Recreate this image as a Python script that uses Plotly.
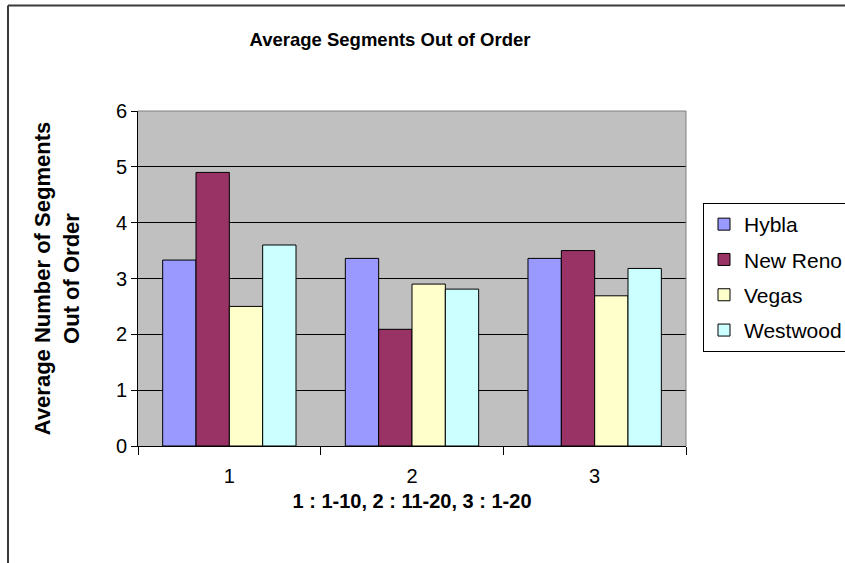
import plotly.graph_objects as go

categories = ["1", "2", "3"]
series_names = ["Hybla", "New Reno", "Vegas", "Westwood"]
hybla = [3.33, 3.36, 3.36]
new_reno = [4.90, 2.09, 3.50]
vegas = [2.50, 2.90, 2.69]
westwood = [3.60, 2.81, 3.18]
colors = ["#9999FF", "#993366", "#FFFFCC", "#CCFFFF"]

title_text = "Average Segments Out of Order"
x_title = "1 : 1-10, 2 : 11-20, 3 : 1-20"
y_title = "Average Number of Segments<br>Out of Order"
y_ticks = [0, 1, 2, 3, 4, 5, 6]

FONT = "Liberation Sans, Arial, sans-serif"

fig = go.Figure()
for name, vals, col in zip(series_names, [hybla, new_reno, vegas, westwood], colors):
    fig.add_trace(go.Bar(
        x=categories, y=vals, name=name, legendgroup=name,
        marker=dict(color=col, line=dict(color="black", width=1)),
    ))

W, H = 845, 563
L, R, T, B = 138, 159, 111, 117
pw = W - L - R
ph = H - T - B

def px(x):
    return (x - L) / pw

def py(y):
    return (H - B - y) / ph

fig.update_layout(
    width=W, height=H,
    margin=dict(l=L, r=R, t=T, b=B, autoexpand=False),
    paper_bgcolor="white",
    plot_bgcolor="#C0C0C0",
    barmode="group",
    bargap=0.27,
    bargroupgap=0,
    font=dict(family=FONT, color="black", size=18),
    title=dict(text="<b>" + title_text + "</b>", x=390 / W, xref="container", xanchor="center",
               y=1 - 40 / H, yref="container", yanchor="middle",
               font=dict(size=18.5, family=FONT, color="black")),
    legend=dict(x=px(703), y=py(203), xanchor="left", yanchor="top",
                bgcolor="white", bordercolor="black", borderwidth=1,
                font=dict(size=21, family=FONT, color="black"),
                traceorder="grouped", tracegroupgap=5),
    xaxis=dict(type="category", tickson="boundaries", ticks="outside", ticklen=8,
               tickcolor="black", showline=True, linecolor="black", linewidth=1,
               showgrid=False, tickfont=dict(size=20, family=FONT),
               ticklabelstandoff=12,
               title=dict(text="<b>" + x_title + "</b>", font=dict(size=20, family=FONT), standoff=7)),
    yaxis=dict(range=[0, 6], tickvals=y_ticks, ticks="outside", ticklen=6, tickcolor="black",
               showline=True, linecolor="black", linewidth=1,
               showgrid=True, gridcolor="black", gridwidth=1, zeroline=False,
               tickfont=dict(size=20, family=FONT),
               title=dict(text="<b>" + y_title + "</b>", font=dict(size=22, family=FONT), standoff=30)),
    shapes=[
        dict(type="line", xref="paper", yref="paper", x0=1, x1=1, y0=0, y1=1,
             line=dict(color="#808080", width=1)),
        dict(type="line", xref="paper", yref="paper", x0=0, x1=1, y0=1, y1=1,
             line=dict(color="#808080", width=1)),
        dict(type="line", xref="paper", yref="paper", x0=px(8), x1=px(8), y0=py(5.5), y1=py(600),
             line=dict(color="#3a3a3a", width=2)),
        dict(type="line", xref="paper", yref="paper", x0=px(8), x1=px(900), y0=py(5.5), y1=py(5.5),
             line=dict(color="#3a3a3a", width=2)),
    ],
)

fig.write_html("out.html", config={"displayModeBar": False},
               post_script="document.body.style.margin='0px';")
